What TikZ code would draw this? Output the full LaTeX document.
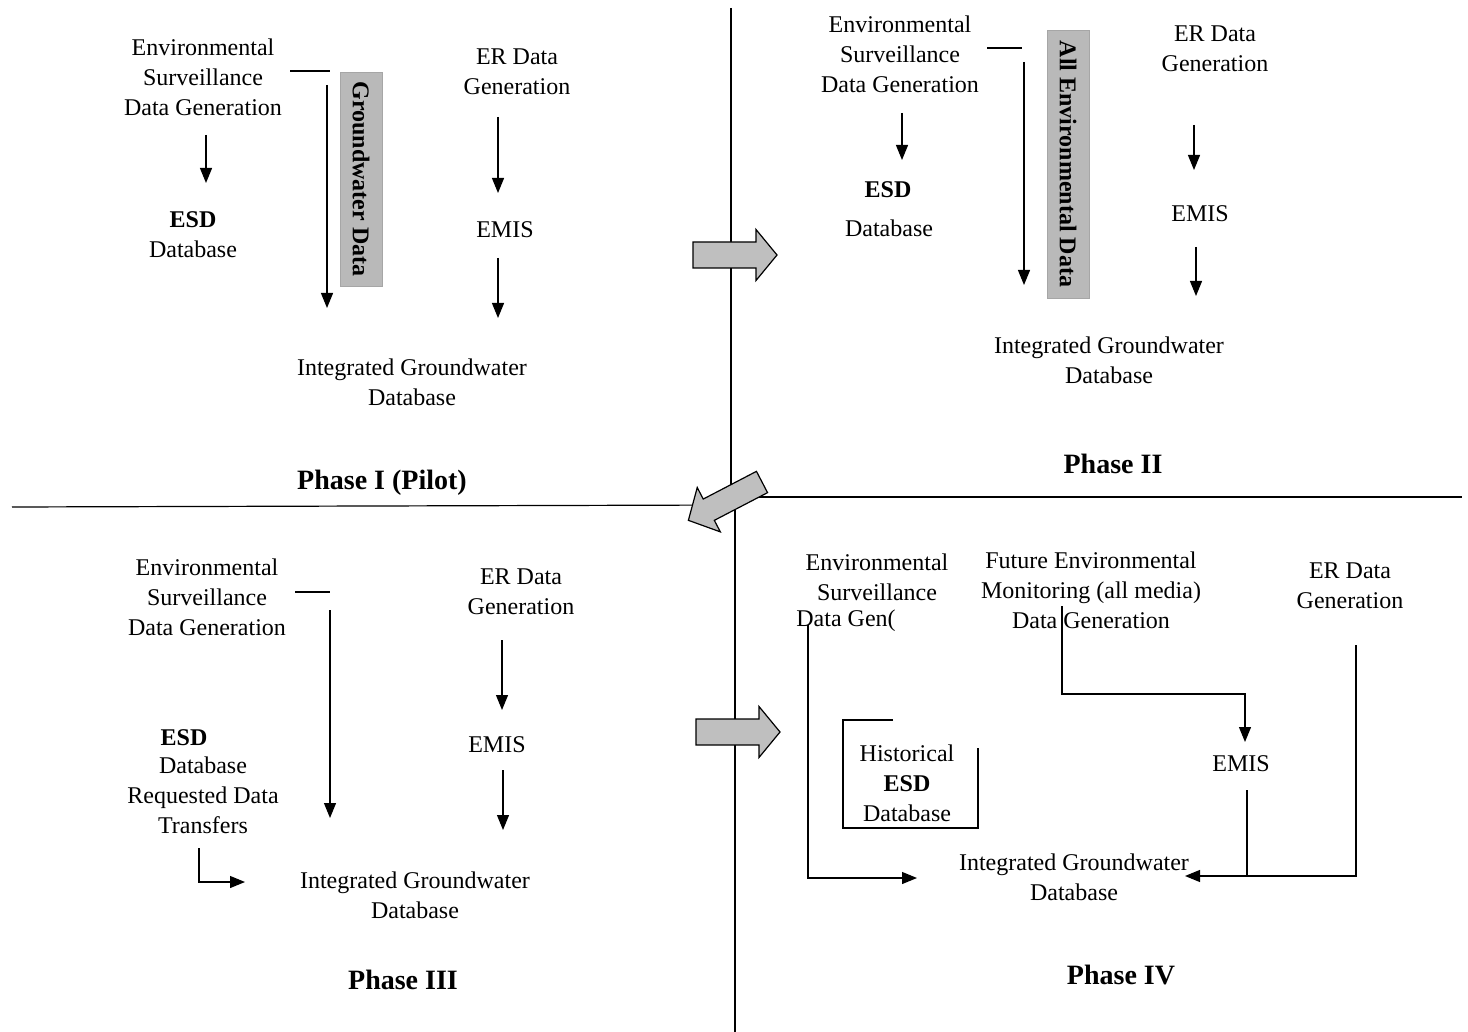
\documentclass[tikz,border=0pt]{standalone}
\usepackage{fontspec}
\setmainfont{Liberation Serif}
\usetikzlibrary{arrows.meta}
\begin{document}
\begin{tikzpicture}[x=0.5pt,y=-0.5pt,
  txt/.style={align=center,inner sep=0pt,font=\fontsize{12}{15}\selectfont},
  boldtxt/.style={txt,font=\fontsize{12}{15}\selectfont\bfseries},
  phase/.style={inner sep=0pt,font=\fontsize{14}{17}\selectfont\bfseries},
  arr/.style={-{Triangle[length=7.5pt,width=6pt]},line width=0.6pt},
  ln/.style={line width=0.6pt},
  databar/.style={fill=gray!55,draw=gray!70,inner sep=0pt,minimum height=21pt,rotate=-90,font=\fontsize{12}{15}\selectfont\bfseries},
  blockarrow/.style={draw=black,fill=gray!50,line width=0.6pt}]
\useasboundingbox (0,0) rectangle (1468,1032);

% dividers
\draw[ln] (731,8) -- (731,500);
\draw[ln] (735,500) -- (735,1032);
\draw[ln] (12,507) -- (733,505);
\draw[ln] (733,497) -- (1462,497);

% Phase I
\node[txt] (esgen1) at (203,77) {Environmental\\Surveillance\\Data Generation};
\node[txt] (ergen1) at (517,72) {ER Data\\Generation};
\node[txt] (esd1) at (193,235) {\textbf{ESD}\\Database};
\node[txt] (emis1) at (505,230) {EMIS};
\node[txt] (igd1) at (412,382) {Integrated Groundwater\\Database};
\node[phase] (ph1) at (382,483) {Phase I (Pilot)};
\node[databar,minimum width=107pt] (gw1) at (361,179) {Groundwater Data};
\coordinate (a1) at (290,71);  \coordinate (b1) at (330,71);
\coordinate (c1) at (327,85);  \coordinate (d1) at (327,308);
\coordinate (e1) at (206,135); \coordinate (f1) at (206,183);
\coordinate (g1) at (498,117); \coordinate (h1) at (498,193);
\coordinate (i1) at (498,258); \coordinate (j1) at (498,318);
\draw[ln] (a1) -- (b1);
\draw[arr] (c1) -- (d1);
\draw[arr] (e1) -- (f1);
\draw[arr] (g1) -- (h1);
\draw[arr] (i1) -- (j1);

% Phase II
\node[txt] (esgen2) at (900,54) {Environmental\\Surveillance\\Data Generation};
\node[txt] (ergen2) at (1215,49) {ER Data\\Generation};
\node[boldtxt] (esd2) at (888,190) {ESD};
\node[txt] (db2) at (889,228) {Database};
\node[txt] (emis2) at (1200,214) {EMIS};
\node[txt] (igd2) at (1109,360) {Integrated Groundwater\\Database};
\node[phase] (ph2) at (1113,464) {Phase II};
\node[databar,minimum width=134pt] (all2) at (1068,164) {All Environmental Data};
\coordinate (a2) at (987,48);   \coordinate (b2) at (1022,48);
\coordinate (c2) at (1024,62);  \coordinate (d2) at (1024,285);
\coordinate (e2) at (902,113);  \coordinate (f2) at (902,160);
\coordinate (g2) at (1194,125); \coordinate (h2) at (1194,170);
\coordinate (i2) at (1196,247); \coordinate (j2) at (1196,296);
\draw[ln] (a2) -- (b2);
\draw[arr] (c2) -- (d2);
\draw[arr] (e2) -- (f2);
\draw[arr] (g2) -- (h2);
\draw[arr] (i2) -- (j2);

% Phase III
\node[txt] (esgen3) at (207,597) {Environmental\\Surveillance\\Data Generation};
\node[txt] (ergen3) at (521,592) {ER Data\\Generation};
\node[boldtxt] (esd3) at (184,738) {ESD};
\node[txt] (req3) at (203,795) {Database\\Requested Data\\Transfers};
\node[txt] (emis3) at (497,745) {EMIS};
\node[txt] (igd3) at (415,895) {Integrated Groundwater\\Database};
\node[phase] (ph3) at (403,980) {Phase III};
\coordinate (a3) at (295,592);  \coordinate (b3) at (330,592);
\coordinate (c3) at (330,610);  \coordinate (d3) at (330,818);
\coordinate (e3) at (502,640);  \coordinate (f3) at (502,710);
\coordinate (g3) at (503,770);  \coordinate (h3) at (503,830);
\coordinate (i3) at (199,848);  \coordinate (j3) at (245,882);
\draw[ln] (a3) -- (b3);
\draw[arr] (c3) -- (d3);
\draw[arr] (e3) -- (f3);
\draw[arr] (g3) -- (h3);
\draw[arr] (i3) |- (j3);

% Phase IV
\node[txt] (esgen4) at (877,577) {Environmental\\Surveillance};
\node[txt] (gen4) at (846,621) {Data Gen(};
\node[txt] (fut4) at (1091,590) {Future Environmental\\Monitoring (all media)\\Data Generation};
\node[txt] (ergen4) at (1350,586) {ER Data\\Generation};
\node[txt] (emis4) at (1241,764) {EMIS};
\node[txt] (hist4) at (907,783) {Historical\\\textbf{ESD}\\Database};
\node[txt] (igd4) at (1074,877) {Integrated Groundwater\\Database};
\node[phase] (ph4) at (1121,975) {Phase IV};
\draw[ln] (893,720) -- (843,720) -- (843,828) -- (978,828) -- (978,748);
\coordinate (a4) at (808,625);  \coordinate (b4) at (917,878);
\coordinate (c4) at (1062,606); \coordinate (d4) at (1062,694);
\coordinate (e4) at (1245,742);
\coordinate (f4) at (1356,645); \coordinate (g4) at (1185,876);
\coordinate (h4) at (1247,790); \coordinate (i4) at (1247,876);
\draw[arr] (a4) |- (b4);
\draw[arr] (c4) -- (d4) -| (e4);
\draw[arr] (f4) |- (g4);
\draw[ln] (h4) -- (i4);

% block arrows
\begin{scope}[shift={(693,255)}]
\draw[blockarrow] (0,-13) -- (63,-13) -- (63,-25.5) -- (84,0) -- (63,25.5) -- (63,13) -- (0,13) -- cycle;
\end{scope}
\begin{scope}[shift={(696,732)}]
\draw[blockarrow] (0,-13) -- (63,-13) -- (63,-25.5) -- (84,0) -- (63,25.5) -- (63,13) -- (0,13) -- cycle;
\end{scope}
\begin{scope}[shift={(762,482)},rotate=207.5]
\draw[blockarrow] (0,-12) -- (60,-12) -- (60,-25) -- (83,0) -- (60,25) -- (60,12) -- (0,12) -- cycle;
\end{scope}
\end{tikzpicture}
\end{document}
